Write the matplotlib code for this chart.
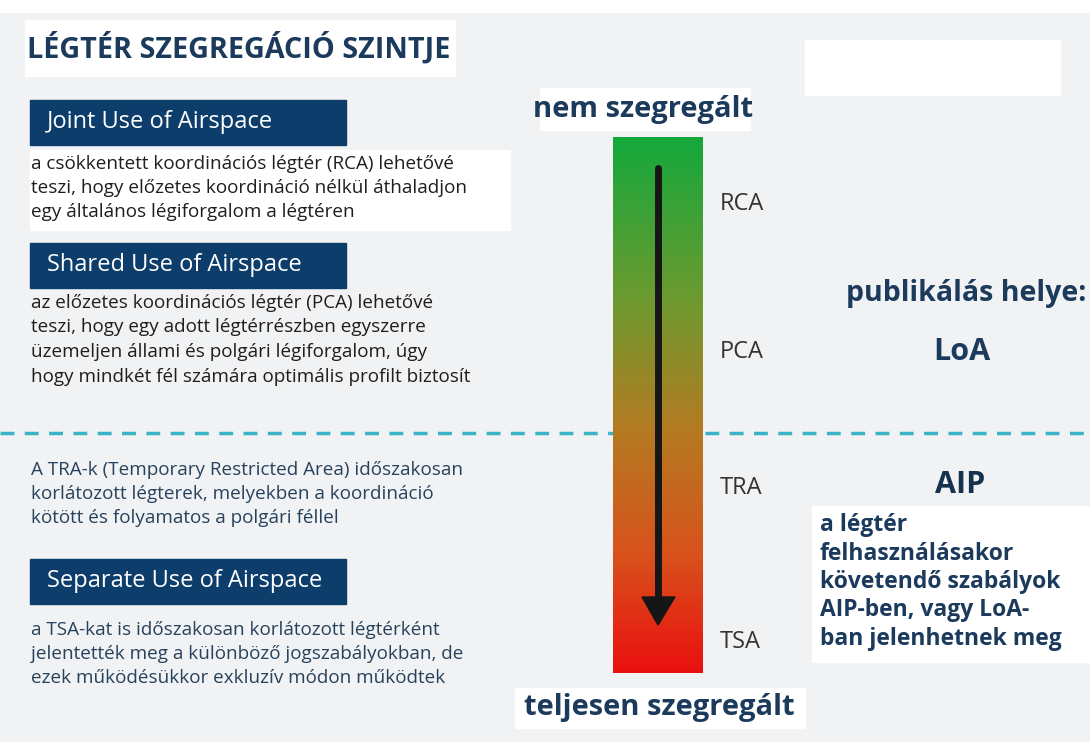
import numpy as np
import matplotlib.pyplot as plt
from matplotlib.colors import LinearSegmentedColormap
from matplotlib.patches import Rectangle, Polygon

# content of the infographic
title = "LÉGTÉR SZEGREGÁCIÓ SZINTJE"
box_titles = ["Joint Use of Airspace", "Shared Use of Airspace", "Separate Use of Airspace"]
joint_text = ["a csökkentett koordinációs légtér (RCA) lehetővé",
              "teszi, hogy előzetes koordináció nélkül áthaladjon",
              "egy általános légiforgalom a légtéren"]
shared_text = ["az előzetes koordinációs légtér (PCA) lehetővé",
               "teszi, hogy egy adott légtérrészben egyszerre",
               "üzemeljen állami és polgári légiforgalom, úgy",
               "hogy mindkét fél számára optimális profilt biztosít"]
tra_text = ["A TRA-k (Temporary Restricted Area) időszakosan",
            "korlátozott légterek, melyekben a koordináció",
            "kötött és folyamatos a polgári féllel"]
tsa_text = ["a TSA-kat is időszakosan korlátozott légtérként",
            "jelentették meg a különböző jogszabályokban, de",
            "ezek működésükkor exkluzív módon működtek"]
levels = ["RCA", "PCA", "TRA", "TSA"]
top_label = "nem szegregált"
bottom_label = "teljesen szegregált"
pub_label = "publikálás helye:"
pub_places = ["LoA", "AIP"]
aip_text = ["a légtér", "felhasználásakor", "követendő szabályok",
            "AIP-ben, vagy LoA-", "ban jelenhetnek meg"]

navy = "#0d3d6b"
headc = "#1b3a5c"
plt.rcParams['font.family'] = ['Open Sans', 'DejaVu Sans']

fig = plt.figure(figsize=(10.9, 7.42), dpi=100)
fig.patch.set_facecolor("#f1f2f3")
ax = fig.add_axes([0, 0, 1, 1])
ax.set_xlim(0, 1090)
ax.set_ylim(742, 0)
ax.axis("off")

# light panels behind the text
ax.add_patch(Rectangle((0, 0), 1090, 12, color="white", zorder=0))
ax.add_patch(Rectangle((25, 20), 430, 56, color="white", zorder=0))
ax.add_patch(Rectangle((30, 150), 480, 80, color="white", zorder=0))
ax.add_patch(Rectangle((805, 40), 255, 55, color="white", zorder=0))
ax.add_patch(Rectangle((540, 88), 210, 42, color="white", zorder=0))
ax.add_patch(Rectangle((515, 688), 290, 40, color="white", zorder=0))
ax.add_patch(Rectangle((812, 506), 278, 156, color="white", zorder=0))

ax.text(27, 48, title, fontsize=20.7, fontweight="bold", color=headc, va="center", ha="left")

# navy header boxes
box_y = [100, 243, 559]
for y, t in zip(box_y, box_titles):
    ax.add_patch(Rectangle((30, y), 316, 45, color=navy, zorder=1))
    ax.text(47, y + 22, t, fontsize=17, color="white", va="center", ha="left", zorder=2)

def lines(x, y0, step, rows, **kw):
    for i, r in enumerate(rows):
        ax.text(x, y0 + i * step, r, va="center", ha="left", **kw)

lines(31, 164, 24, joint_text, fontsize=13.6, color="#1e1e1e")
lines(31, 303, 24.5, shared_text, fontsize=13.6, color="#1e1e1e")
lines(31, 470, 24, tra_text, fontsize=13.6, color="#27425e")
lines(31, 630, 24, tsa_text, fontsize=13.6, color="#27425e")

# dashed separator
ax.plot([0, 1090], [433, 433], color="#3bb3c6", lw=2.5, ls=(0, (4, 3)), zorder=1)

# gradient bar
cmap = LinearSegmentedColormap.from_list(
    "seg", [(0, "#14a83c"), (0.3, "#6c9a30"), (0.55, "#b57a22"),
            (0.78, "#d8521c"), (1, "#ea1010")])
grad = np.linspace(0, 1, 256).reshape(-1, 1)
ax.imshow(grad, cmap=cmap, aspect="auto", extent=(613, 703, 673, 137), zorder=3)

# arrow
ax.plot([658, 658], [168, 600], color="#161616", lw=5, solid_capstyle="round", zorder=4)
ax.add_patch(Polygon([(642, 597), (675, 597), (658, 625)], color="#161616", zorder=4))

level_y = [204, 352, 488, 642]
for y, t in zip(level_y, levels):
    ax.text(720, y, t, fontsize=17, color="#333333", va="center", ha="left")

ax.text(643, 110, top_label, fontsize=21, fontweight="bold", color=headc, va="center", ha="center")
ax.text(659, 708, bottom_label, fontsize=21, fontweight="bold", color=headc, va="center", ha="center")

ax.text(1086, 294, pub_label, fontsize=20.5, fontweight="bold", color=headc, va="center", ha="right")
ax.text(962, 352, pub_places[0], fontsize=22, fontweight="bold", color=headc, va="center", ha="center")
ax.text(960, 485, pub_places[1], fontsize=22, fontweight="bold", color="#17324f", va="center", ha="center")
lines(820, 525, 28.5, aip_text, fontsize=16.5, fontweight="bold", color=headc)

fig.savefig("out.png", dpi=100, facecolor=fig.get_facecolor())
